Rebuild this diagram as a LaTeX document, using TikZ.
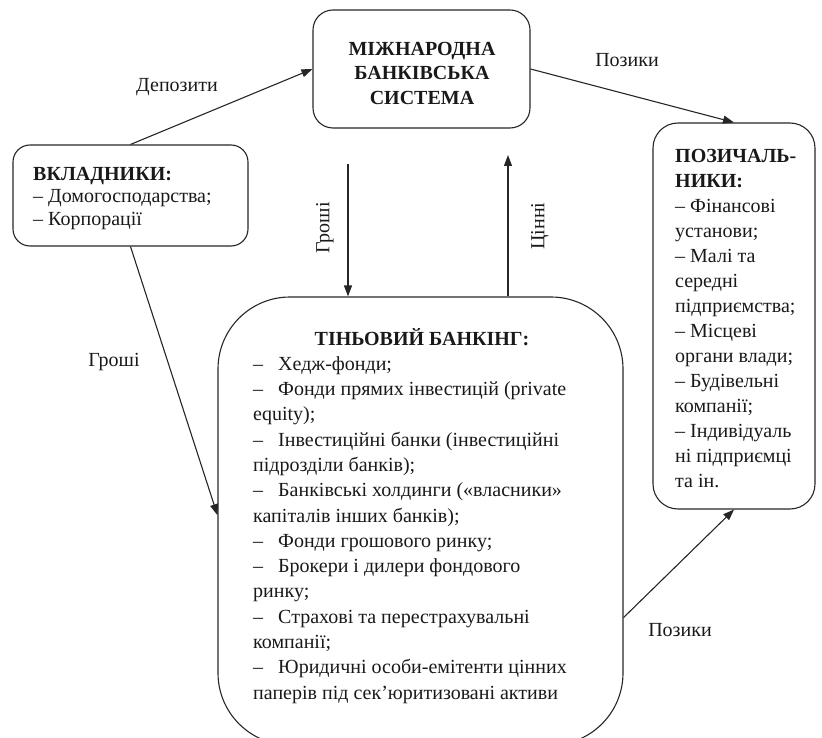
\documentclass[tikz,border=0pt]{standalone}
\usepackage{fontspec}
\setmainfont{Liberation Serif}
\usetikzlibrary{arrows.meta,calc}
\begin{document}
\begin{tikzpicture}[x=1pt,y=-1pt,
  box/.style={draw=black!85, line width=1.1pt, inner sep=0pt},
  arr/.style={draw=black!85, line width=1.1pt, -{Triangle[length=11pt,width=8pt]}},
  ttl/.style={inner sep=0pt, text=black!90, font=\fontsize{20}{24.5}\selectfont\bfseries},
  body/.style={inner sep=0pt, text=black!90, align=left},
  lbl/.style={inner sep=0pt, text=black!90, font=\fontsize{20}{24}\selectfont}]
\clip (0,0) rectangle (822,738);
% boxes
\node[box, rounded corners=20pt, minimum width=217pt, minimum height=118pt] (mbs) at (421.5,69) {};
\node[box, rounded corners=17pt, minimum width=235pt, minimum height=101pt] (vk) at (130.5,195.5) {};
\node[box, rounded corners=25pt, minimum width=162pt, minimum height=386pt] (poz) at (734,316) {};
\node[box, rounded corners=72pt, minimum width=405pt, minimum height=448pt] (sh) at (420.5,521) {};
% texts
\node[ttl, align=center, anchor=north] (mbst) at (422,37.85) {\strut МІЖНАРОДНА\\БАНКІВСЬКА\\СИСТЕМА};
\node[body, font=\fontsize{20}{22.5}\selectfont, anchor=north west] (vkt) at (33,164.25)
  {\strut\textbf{ВКЛАДНИКИ:}\\– Домогосподарства;\\– Корпорації};
\node[ttl, font=\fontsize{20}{25}\selectfont\bfseries, anchor=north] (sht) at (422,327.5) {\strut ТІНЬОВИЙ БАНКІНГ:};
\node[body, font=\fontsize{20}{25.3}\selectfont, anchor=north west] (shl) at (253,352.3)
  {\strut\makebox[25pt][l]{–}Хедж-фонди;\\
   \makebox[25pt][l]{–}Фонди прямих інвестицій (private\\
   equity);\\
   \makebox[25pt][l]{–}Інвестиційні банки (інвестиційні\\
   підрозділи банків);\\
   \makebox[25pt][l]{–}Банківські холдинги («власники»\\
   капіталів інших банків);\\
   \makebox[25pt][l]{–}Фонди грошового ринку;\\
   \makebox[25pt][l]{–}Брокери і дилери фондового\\
   ринку;\\
   \makebox[25pt][l]{–}Страхові та перестрахувальні\\
   компанії;\\
   \makebox[25pt][l]{–}Юридичні особи-емітенти цінних\\
   паперів під сек’юритизовані активи};
\node[body, font=\fontsize{20}{25}\selectfont, anchor=north west] (pozt) at (675,144.5)
  {\strut\textbf{ПОЗИЧАЛЬ-}\\\textbf{НИКИ:}\\– Фінансові\\установи;\\– Малі та\\середні\\підприємства;\\– Місцеві\\органи влади;\\– Будівельні\\компанії;\\– Індивідуаль\\ні підприємці\\та ін.};
% connectors
\draw[arr] (vk.north) -- (mbs.west);
\draw[arr] (mbs.east) -- (poz.north);
\coordinate (g1) at (348,164);
\draw[arr] (g1) -- (g1 |- sh.north);
\coordinate (c1) at (508,155);
\draw[arr] (c1 |- sh.north) -- (c1);
\draw[arr] (vk.south) -- ($(sh.north west)!0.487!(sh.south west)$);
\draw[arr] ($(sh.north east)!0.715!(sh.south east)$) -- (poz.south);
% labels
\node[lbl] (ldep) at (177,87) {Депозити};
\node[lbl] (lpoz1) at (627,60) {Позики};
\node[lbl, rotate=90] (lgr1) at (325,228) {Гроші};
\node[lbl, rotate=90] (lcin) at (540,226) {Цінні};
\node[lbl] (lgr2) at (114,362) {Гроші};
\node[lbl] (lpoz2) at (680,630) {Позики};
\end{tikzpicture}
\end{document}
